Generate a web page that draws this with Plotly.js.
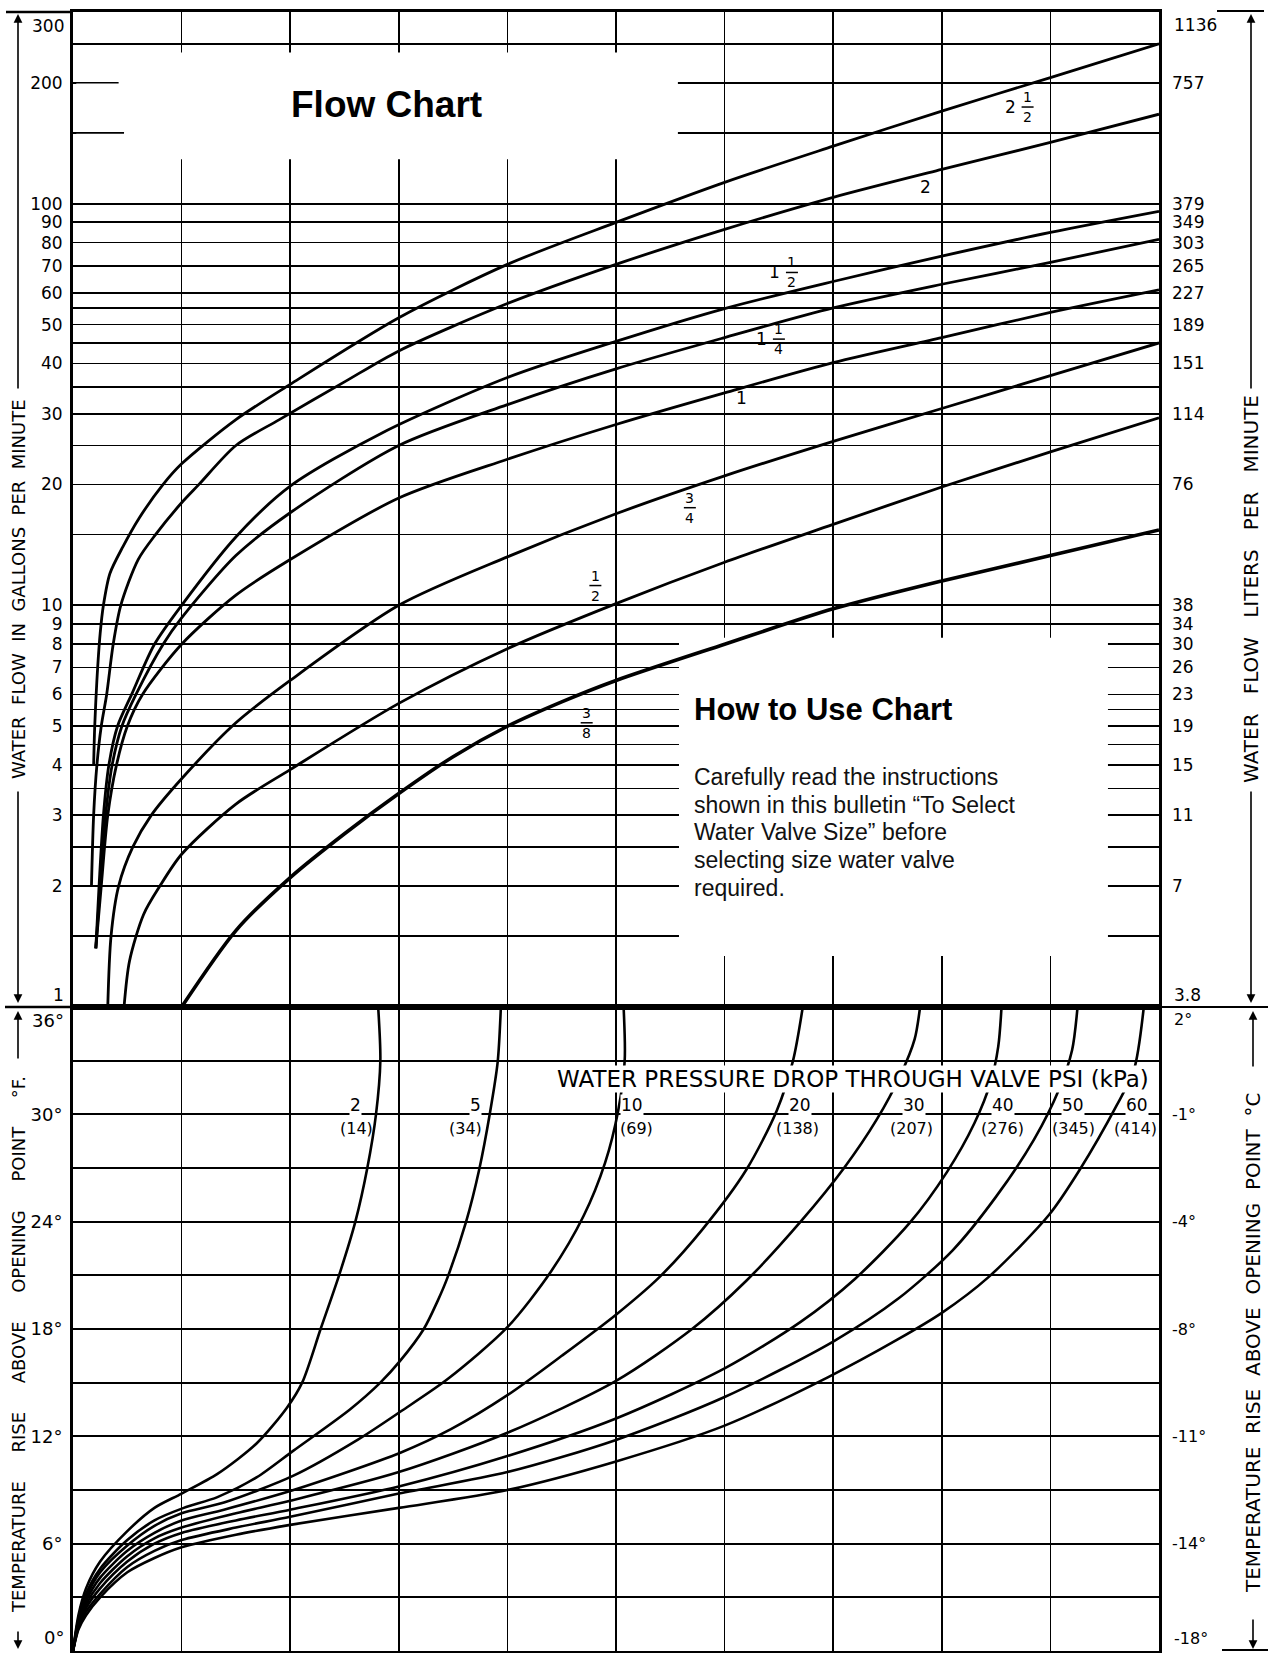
<!DOCTYPE html>
<html><head><meta charset="utf-8">
<script src="https://cdn.plot.ly/plotly-3.0.1.min.js"></script>
<style>html,body{margin:0;padding:0;background:#fff;}#chart{width:1274px;height:1653px;}</style>
</head><body><div id="chart"></div>
<script>
// ---------------- DATA ----------------
// Top panel: water flow (GPM, log) vs valve opening (grid columns 0..10)
const gpmGrid = [1,1.5,2,2.5,3,3.5,4,4.5,5,5.5,6,7,8,9,10,15,20,25,30,35,40,45,50,55,60,70,80,90,100,150,200,250,300];
const gpmTickVals = [2,3,4,5,6,7,8,9,10,20,30,40,50,60,70,80,90,100,200];
const gpmTickText = ['2','3','4','5','6','7','8','9','10','20','30','40','50','60','70','80','90','100','200'];
const lpmTickText = ['7','11','15','19','23','26','30','34','38','76','114','151','189','227','265','303','349','379','757'];
const gpmEndLabels = {top:'300', bottom:'1'};
const lpmEndLabels = {top:'1136', bottom:'3.8'};

// valve size curves (x = grid column, y = GPM)
const v250X = [0.19,0.20,0.22,0.25,0.28,0.34,0.46,0.61,0.83,1.0,1.5,2.0,3.0,4.0,5.0,6.0,7.0,8.0,9.0,10.0];
const v250Y = [4.0,5.0,6.5,8.5,10,12,14,16.5,20,22.5,29,35.5,52,70.6,89.8,113,139,170,206,250];
const v200X = [0.17,0.19,0.22,0.26,0.31,0.37,0.44,0.6,0.76,1.0,1.16,1.5,1.9,2.5,3.0,4,5,6,7,8,9,10];
const v200Y = [2.0,3.0,4.0,5.0,6.0,8.0,10,13,15,18,20,25,29,36,43,56.4,70.6,86.3,103.7,121.7,142,167];
const v150X = [0.21,0.24,0.28,0.33,0.41,0.54,0.75,1.0,1.5,2.0,2.85,4,5,6,7,8,9,10];
const v150Y = [1.4,2.0,3.0,4.0,5.0,6.0,8.0,10,14.8,19.8,26.9,36.9,45.4,54.8,64,74,84.8,95.7];
const v125X = [0.21,0.25,0.30,0.36,0.45,0.58,0.83,1.0,1.5,2.0,3.0,4,5,6,7,8,9,10];
const v125Y = [1.4,2.0,3.0,4.0,5.0,6.0,8.0,9.3,13.3,17,25,31.6,38.8,46.4,55,63,71.4,81.5];
const v100X = [0.21,0.26,0.32,0.40,0.50,0.64,1.0,1.5,2.0,3.0,4,5,6,7,8,9,10];
const v100Y = [1.4,2.0,3.0,4.0,5.0,6.0,8.0,10.6,13,18.5,23.1,28.2,33.8,40.2,46.4,53.6,61];
const v075X = [0.32,0.35,0.42,0.55,0.72,1.0,1.5,2,3,4,5,6,7,8,9,10];
const v075Y = [1.0,1.5,2.0,2.5,3.0,3.7,5.1,6.5,10,13.2,16.9,21.0,25.6,30.9,37.3,45];
const v050X = [0.47,0.52,0.65,0.8,1.0,1.5,2,3,4,5,6,7,8,9,10];
const v050Y = [1.0,1.3,1.7,2.0,2.4,3.2,3.9,5.7,7.8,10.1,12.8,15.9,19.7,24.1,29.3];
const v0375X = [1.0,1.5,2,2.5,3,3.5,4,4.5,5,6,7,8,9,10];
const v0375Y = [1.0,1.55,2.1,2.7,3.4,4.2,5.0,5.75,6.5,8.0,9.8,11.5,13.3,15.4];

// valve size labels
const sizeLabelWhole = ['2','2','1','1','1','','',''];
const sizeLabelNum   = ['1','','1','1','','3','1','3'];
const sizeLabelDen   = ['2','','2','4','','4','2','8'];
const sizeLabelX     = [8.63,7.85,6.46,6.34,6.16,5.68,4.81,4.73];
const sizeLabelGpm   = [174,110,67.4,46,32.9,17.5,11.2,5.1];

// Bottom panel: temperature rise (°F) vs opening, per pressure drop
const tempGrid = [0,3,6,9,12,15,18,21,24,27,30,33,36];
const tempTickVals = [6,12,18,24,30];
const tempTickF = ['6°','12°','18°','24°','30°'];
const tempTickC = ['-14°','-11°','-8°','-4°','-1°'];
const tempEndF = {top:'36°', bottom:'0°'};
const tempEndC = {top:'2°', bottom:'-18°'};

const p02X = [0,0.05,0.12,0.25,0.5,0.75,1.0,1.33,1.69,1.97,2.11,2.28,2.45,2.60,2.71,2.79,2.83,2.81];
const p02T = [0,2.0,3.5,5.0,6.7,8.0,8.8,9.9,11.6,13.6,15.0,18,21,24,27,30,33,36];
const p05X = [0,0.05,0.12,0.25,0.5,0.75,1.02,1.33,1.69,2.03,2.55,2.83,3.01,3.23,3.36,3.45,3.62,3.74,3.84,3.91,3.94];
const p05T = [0,1.8,3.2,4.6,6.2,7.3,8.0,8.6,9.7,11.2,13.5,15.0,16.2,18.0,19.6,20.9,24.0,26.9,30.1,32.9,36];
const p10X = [0,0.05,0.12,0.25,0.5,0.75,1.0,1.39,2.03,2.62,3.02,3.45,4.0,4.4,4.7,4.9,5.02,5.08,5.07];
const p10T = [0,1.7,3.0,4.4,5.9,7.0,7.7,8.3,9.8,11.8,13.4,15.2,18.1,21.2,24.3,27.3,30.2,33.0,36];
const p20X = [0,0.05,0.12,0.25,0.5,0.75,1.0,1.39,2.03,3.02,3.48,4.0,4.5,5.0,5.4,5.8,6.2,6.48,6.63,6.72];
const p20T = [0,1.6,2.8,4.1,5.6,6.6,7.3,7.9,9.0,11.1,12.4,14.3,16.5,18.8,20.9,23.6,26.9,30.2,33.0,36];
const p30X = [0,0.05,0.12,0.25,0.5,0.75,1.0,1.5,2.0,3.0,4.0,5.0,5.7,6.2,6.7,7.1,7.4,7.62,7.75,7.8];
const p30T = [0,1.5,2.6,3.8,5.3,6.3,6.9,7.7,8.4,10.0,12.2,15.1,18.0,20.7,24.0,27.0,29.7,32.2,34.2,36];
const p40X = [0,0.05,0.12,0.25,0.5,0.75,1.0,1.5,2.0,3.0,4.0,5.0,6.0,6.7,7.2,7.7,8.05,8.3,8.45,8.52,8.55];
const p40T = [0,1.4,2.4,3.5,5.0,6.0,6.6,7.3,7.9,9.2,10.9,13.0,15.8,18.4,20.8,23.9,26.8,29.5,31.8,33.8,36];
const p50X = [0,0.05,0.12,0.25,0.5,0.75,1.0,1.5,2.0,3.0,4.0,5.0,6.0,7.0,7.6,8.1,8.5,8.85,9.08,9.2,9.25];
const p50T = [0,1.3,2.2,3.2,4.7,5.6,6.2,6.9,7.5,8.8,10.0,11.8,14.2,17.3,19.7,22.4,25.4,28.6,31.4,33.6,36];
const p60X = [0,0.05,0.12,0.25,0.5,0.75,1.0,1.5,2.0,3.0,4.0,5.0,6.0,6.95,7.59,8.0,8.43,8.99,9.27,9.61,9.77,9.86];
const p60T = [0,1.2,2.0,3.0,4.4,5.2,5.8,6.5,7.05,8.0,9.0,10.6,12.6,15.3,17.4,18.9,20.9,24.4,26.9,30.5,32.5,36];

// pressure labels
const psiText = ['2','5','10','20','30','40','50','60'];
const psiX    = [2.60,3.71,5.15,6.69,7.74,8.56,9.21,9.80];
const kpaText = ['(14)','(34)','(69)','(138)','(207)','(276)','(345)','(414)'];
const kpaX    = [2.61,3.61,5.19,6.67,7.72,8.56,9.21,9.78];

// text
const chartTitle = 'Flow Chart';
const howTitle = 'How to Use Chart';
const howLines = ['Carefully read the instructions','shown in this bulletin \u201cTo Select','Water Valve Size\u201d before','selecting size water valve','required.'];
const headerText = 'WATER PRESSURE DROP THROUGH VALVE PSI (kPa)';
const NB = '\u00a0';
const titleLeftTop = 'WATER FLOW IN GALLONS PER MINUTE';
const titleRightTop = 'WATER FLOW LITERS PER MINUTE';
const titleLeftBot = 'TEMPERATURE RISE ABOVE OPENING POINT °F.';
const titleRightBot = 'TEMPERATURE RISE ABOVE OPENING POINT °C';

// ---------------- BUILD ----------------
const W = 1274, H = 1653;
const mL = 73, mR = 115, mT = 12, mB = 2;
const plotW = W - mL - mR, plotH = H - mT - mB;
const split = 644 / plotH;
const px = p => (p - mL) / plotW;
const py = p => (H - mB - p) / plotH;
const FONT = 'DejaVu Sans, Verdana, sans-serif';
const SANS = 'Liberation Sans, Arial, sans-serif';

const curveStyle = w => ({color:'#000', width:w, shape:'spline', smoothing:0.8});
const traces = [];
const topCurves = [[v250X,v250Y,2.8],[v200X,v200Y,2.8],[v150X,v150Y,2.8],[v125X,v125Y,2.8],[v100X,v100Y,2.8],[v075X,v075Y,2.8],[v050X,v050Y,2.8],[v0375X,v0375Y,3.6]];
topCurves.forEach(c => traces.push({x:c[0], y:c[1], xaxis:'x', yaxis:'y', mode:'lines', line:curveStyle(c[2]), hoverinfo:'skip', showlegend:false}));
const botCurves = [[p02X,p02T],[p05X,p05T],[p10X,p10T],[p20X,p20T],[p30X,p30T],[p40X,p40T],[p50X,p50T],[p60X,p60T]];
botCurves.forEach(c => traces.push({x:c[0], y:c[1], xaxis:'x2', yaxis:'y2', mode:'lines', line:curveStyle(2.6), hoverinfo:'skip', showlegend:false}));
// invisible anchors for right-side axes
traces.push({x:[5], y:[10], xaxis:'x', yaxis:'y3', mode:'markers', marker:{opacity:0}, hoverinfo:'skip', showlegend:false});
traces.push({x:[5], y:[10], xaxis:'x2', yaxis:'y4', mode:'markers', marker:{opacity:0}, hoverinfo:'skip', showlegend:false});

const leftGridText = gpmGrid.map(v => { const i = gpmTickVals.indexOf(v); return i >= 0 ? gpmTickText[i] : ''; });
const tempGridText = tempGrid.map(v => { const i = tempTickVals.indexOf(v); return i >= 0 ? tempTickF[i] : ''; });

const gridCommon = {showgrid:true, gridcolor:'#000', gridwidth:1.7, zeroline:false, showline:true, linecolor:'#000', linewidth:3, mirror:true, ticks:''};
const logRange = [0, Math.log10(300)];

const layout = {
  width:W, height:H, margin:{l:mL, r:mR, t:mT, b:mB, autoexpand:false},
  paper_bgcolor:'#fff', plot_bgcolor:'#fff', showlegend:false, hovermode:false,
  xaxis: Object.assign({}, gridCommon, {domain:[0,1], anchor:'y', range:[0,10], tickmode:'array', tickvals:[0,1,2,3,4,5,6,7,8,9,10], showticklabels:false}),
  yaxis: Object.assign({}, gridCommon, {domain:[split,1], anchor:'x', type:'log', range:logRange, tickmode:'array', tickvals:gpmGrid, ticktext:leftGridText, tickfont:{family:FONT, size:17, color:'#000'}, ticklabelstandoff:4}),
  xaxis2: Object.assign({}, gridCommon, {domain:[0,1], anchor:'y2', range:[0,10], tickmode:'array', tickvals:[0,1,2,3,4,5,6,7,8,9,10], showticklabels:false}),
  yaxis2: Object.assign({}, gridCommon, {domain:[0,split], anchor:'x2', range:[0,36], tickmode:'array', tickvals:tempGrid, ticktext:tempGridText, tickfont:{family:FONT, size:18, color:'#000'}, ticklabelstandoff:4}),
  yaxis3: {overlaying:'y', side:'right', anchor:'x', type:'log', range:logRange, tickmode:'array', tickvals:gpmTickVals, ticktext:lpmTickText, showgrid:false, zeroline:false, showline:false, ticks:'', tickfont:{family:FONT, size:17, color:'#000'}, ticklabelstandoff:12},
  yaxis4: {overlaying:'y2', side:'right', anchor:'x2', range:[0,36], tickmode:'array', tickvals:tempTickVals, ticktext:tempTickC, showgrid:false, zeroline:false, showline:false, ticks:'', tickfont:{family:FONT, size:16, color:'#000'}, ticklabelstandoff:12},
  shapes:[], annotations:[]
};

const S = layout.shapes, A = layout.annotations;
// white masks for the text boxes (above grid, below curves)
S.push({type:'rect', layer:'between', xref:'x', yref:'y', x0:0.03, x1:5.57, y0:129, y1:238, fillcolor:'#fff', line:{width:0}});
S.push({type:'rect', layer:'between', xref:'x', yref:'y', x0:5.58, x1:9.53, y0:1.34, y1:8.3, fillcolor:'#fff', line:{width:0}});
S.push({type:'line', layer:'between', xref:'x', yref:'y', x0:0, x1:0.42, y0:200, y1:200, line:{color:'#000', width:1.7}});
S.push({type:'line', layer:'between', xref:'x', yref:'y', x0:0, x1:0.47, y0:150, y1:150, line:{color:'#000', width:1.7}});
// border extensions outside plot
const pline = (x0,x1,y,w) => S.push({type:'line', xref:'paper', yref:'paper', x0:px(x0), x1:px(x1), y0:py(y), y1:py(y), line:{color:'#000', width:w}});
pline(6, mL, 12, 2.5);
pline(1217, 1264, 11, 2);
pline(5, mL, 1007, 2.5);
pline(W - mR, 1268, 1007, 2);
pline(1222, 1268, 1650, 2);

// size labels
const tl = (txt, x, ylog, size, ysh) => A.push({text:txt, xref:'x', yref:'y', x:x, y:ylog, xanchor:'center', yanchor:'middle', showarrow:false, font:{family:FONT, size:size, color:'#000'}, yshift:ysh||0});
sizeLabelX.forEach((x, i) => {
  const yl = Math.log10(sizeLabelGpm[i]);
  let fx = x;
  if (sizeLabelWhole[i]) {
    tl(sizeLabelWhole[i], x, yl, 17, 0);
    fx = x + 0.16;
  }
  if (sizeLabelNum[i]) {
    tl(sizeLabelNum[i], fx, yl, 14, 10);
    tl(sizeLabelDen[i], fx, yl, 14, -10);
    S.push({type:'line', xref:'x', yref:'y', xsizemode:'pixel', ysizemode:'pixel', xanchor:fx, yanchor:sizeLabelGpm[i], x0:-6, x1:6, y0:0, y1:0, line:{color:'#000', width:1.5}});
  }
});

// bottom header + psi labels
A.push({text:headerText, xref:'x2', yref:'y2', x:7.18, y:32.0, xanchor:'center', yanchor:'middle', showarrow:false, bgcolor:'#fff', borderpad:0, font:{family:FONT, size:23, color:'#000'}});
psiText.forEach((t, i) => A.push({text:t, xref:'x2', yref:'y2', x:psiX[i], y:30.5, xanchor:'center', yanchor:'middle', showarrow:false, bgcolor:'#fff', borderpad:0, font:{family:FONT, size:17, color:'#000'}}));
kpaText.forEach((t, i) => A.push({text:t, xref:'x2', yref:'y2', x:kpaX[i], y:29.2, xanchor:'center', yanchor:'middle', showarrow:false, font:{family:FONT, size:16, color:'#000'}}));

// end tick labels
const endL = (txt, yref, y, anchor, size, side, ysh) => A.push({text:txt, xref:'paper', yref:yref, x: side==='l'?0:1, y:y, xanchor: side==='l'?'right':'left', yanchor:anchor, xshift: side==='l'?-7:13, yshift:ysh||0, showarrow:false, font:{family:FONT, size:size, color:'#000'}});
endL(gpmEndLabels.top, 'y', Math.log10(300), 'top', 17, 'l', -2);
endL(gpmEndLabels.bottom, 'y', 0, 'bottom', 17, 'l', 0);
endL(lpmEndLabels.top, 'y', Math.log10(300), 'top', 17, 'r', -1);
endL(lpmEndLabels.bottom, 'y', 0, 'bottom', 17, 'r', 0);
endL(tempEndF.top, 'y2', 36, 'top', 18, 'l', -1);
endL(tempEndF.bottom, 'y2', 0, 'bottom', 18, 'l', 1);
endL(tempEndC.top, 'y2', 36, 'top', 16, 'r', -1);
endL(tempEndC.bottom, 'y2', 0, 'bottom', 16, 'r', 1);

// text boxes
A.push({text:'<b>'+chartTitle+'</b>', xref:'paper', yref:'paper', x:px(386), y:py(105), xanchor:'center', yanchor:'middle', showarrow:false, font:{family:SANS, size:37, color:'#000'}});
A.push({text:'<b>'+howTitle+'</b>', xref:'paper', yref:'paper', x:px(692), y:py(709), xanchor:'left', yanchor:'middle', showarrow:false, font:{family:SANS, size:31, color:'#000'}});
const howY = [777,805,832,860,888];
howLines.forEach((t, i) => A.push({text:t, xref:'paper', yref:'paper', x:px(692), y:py(howY[i]), xanchor:'left', yanchor:'middle', showarrow:false, font:{family:SANS, size:23, color:'#111'}}));

// side titles with dimension arrows
const spaced = (s, n) => s.split(' ').join(' ' + NB.repeat(n));
const sideTitle = (txt, xPix, cPix, size) => A.push({text:txt, xref:'paper', yref:'paper', x:px(xPix), y:py(cPix), xanchor:'center', yanchor:'middle', textangle:-90, showarrow:false, font:{family:FONT, size:size, color:'#000'}});
const arrow = (xPix, tip, tail) => A.push({text:'', xref:'paper', yref:'paper', x:px(xPix), y:py(tip), ax:0, ay:tail - tip, axref:'pixel', ayref:'pixel', showarrow:true, arrowhead:2, arrowsize:1.1, arrowwidth:1.6, arrowcolor:'#000', standoff:0, startstandoff:0});
sideTitle(spaced(titleLeftTop,1), 18, 589, 18);
arrow(18, 14, 390); arrow(18, 1003, 790);
sideTitle(spaced(titleRightTop,2), 1251, 589, 20);
arrow(1251, 14, 390); arrow(1251, 1003, 790);
sideTitle(spaced(titleLeftBot,4), 18, 1345, 18);
arrow(18, 1011, 1060); arrow(18, 1649, 1630);
sideTitle(spaced(titleRightBot,1), 1253, 1343, 20);
arrow(1253, 1011, 1068); arrow(1253, 1649, 1618);

Plotly.newPlot('chart', traces, layout, {staticPlot:true, displayModeBar:false});
</script>
</body></html>
